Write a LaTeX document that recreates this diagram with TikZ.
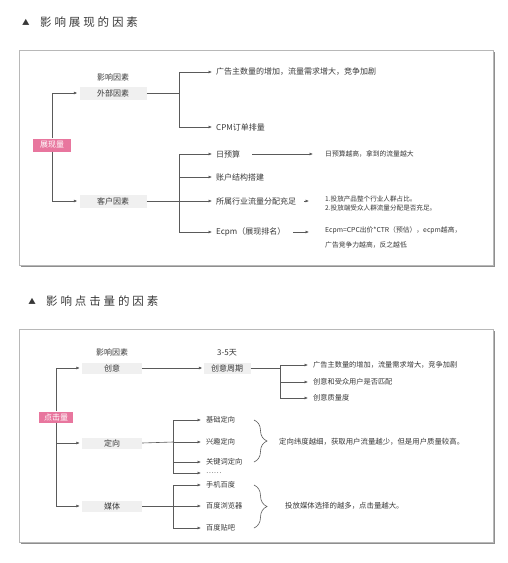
\documentclass[tikz,border=0pt]{standalone}
\usepackage{fontspec}
\setmainfont{Noto Sans CJK SC}
\newfontfamily\titlefont[LetterSpace=25]{Noto Sans CJK SC}
\usepackage{xcolor}
\usepackage{tikz}
\usetikzlibrary{arrows.meta, positioning, decorations.pathreplacing}
\definecolor{boxgray}{HTML}{F0F0F0}
\definecolor{rootpink}{HTML}{E8769E}
\definecolor{txtgray}{HTML}{383838}
\definecolor{linegray}{HTML}{5A5A5A}
\definecolor{framegray}{HTML}{B8B8B8}
\definecolor{shadegray}{HTML}{8E8E8E}
\tikzset{
    factor/.style={rectangle, fill=boxgray, text=txtgray, minimum width=67pt, minimum height=13pt, inner sep=0pt, font=\fontsize{8}{9}\selectfont},
    rootbox/.style={rectangle, fill=rootpink, text=white, minimum width=38pt, minimum height=13pt, inner sep=0pt, font=\fontsize{8}{9}\selectfont},
    colhead/.style={text=txtgray, inner sep=0pt, font=\fontsize{8}{9}\selectfont},
    item/.style={anchor=west, text=txtgray, inner xsep=3pt, inner ysep=1pt, font=\fontsize{8}{9}\selectfont},
    smallitem/.style={item, inner xsep=4pt, font=\fontsize{7.2}{8}\selectfont},
    note/.style={anchor=west, text=txtgray, inner sep=1pt, align=left, font=\fontsize{6.8}{9}\selectfont},
    heading/.style={anchor=west, text=txtgray, inner sep=0pt, font=\titlefont\fontsize{11.5}{12}\selectfont},
    titlemark/.style={text=txtgray, inner sep=0pt, font=\fontsize{7.5}{8}\selectfont},
    link/.style={draw=linegray, line width=0.6pt},
    arrowline/.style={link, -{Latex[length=3.5pt, width=3pt]}, shorten >=1pt},
    notearrow/.style={arrowline, shorten <=5pt, shorten >=15pt},
    bracket/.style={link, decorate, decoration={brace, amplitude=13pt}},
    panel/.style={draw=framegray, fill=white, line width=0.6pt}
}
\begin{document}
\begin{tikzpicture}[x=1pt, y=-1pt]
  \useasboundingbox (0,0) rectangle (508,563);
  \fill[shadegray] (21,52) rectangle (495,267);
  \draw[panel] (19,50) rectangle (493,265);
  \fill[shadegray] (21,331) rectangle (495,544);
  \draw[panel] (19,329) rectangle (493,542);
  \node[titlemark] (mark1) at (26,22) {▲};
  \node[heading] (title1) at (40,22) {影响展现的因素};
  \node[titlemark] (mark2) at (32,301) {▲};
  \node[heading] (title2) at (46,301) {影响点击量的因素};

  \node[rootbox] (root1) at (52,145) {展现量};
  \node[factor] (ext) at (113,93) {外部因素};
  \node[colhead, above=12pt of ext.center] (head1) {影响因素};
  \node[factor] (cust) at (113,201) {客户因素};
  \coordinate (ebr) at (179,93);
  \coordinate (cbr) at (179,201);
  \node[item] (adv1) at (213,72) {广告主数量的增加，流量需求增大，竞争加剧};
  \node[item] (cpm) at (213,127) {CPM订单排量};
  \node[item] (budget) at (213,154) {日预算};
  \node[item] (acct) at (213,177) {账户结构搭建};
  \node[item] (ind) at (213,201) {所属行业流量分配充足};
  \node[item] (ecpm) at (213,232) {Ecpm（展现排名）};
  \node[note] (budgetnote) at (324,154) {日预算越高，拿到的流量越大};
  \node[note, font=\fontsize{6.6}{9}\selectfont] (indnote) at (324,203.5) {1.投放产品整个行业人群占比。\\2.投放端受众人群流量分配是否充足。};
  \node[note, font=\fontsize{6.8}{15}\selectfont] (ecpmnote) at (324,237.5) {Ecpm=CPC出价*CTR（预估），ecpm越高，\\广告竞争力越高，反之越低};
  \draw[arrowline, shorten >=2pt] (root1.north) |- (ext.west);
  \draw[arrowline, shorten >=2pt] (root1.south) |- (cust.west);
  \draw[link] (ext.east) -- (ebr);
  \draw[arrowline] (ebr) |- (adv1.west);
  \draw[arrowline] (ebr) |- (cpm.west);
  \draw[link] (cust.east) -- (cbr);
  \draw[arrowline] (cbr) |- (budget.west);
  \draw[arrowline] (cbr) |- (acct.west);
  \draw[arrowline] (cbr) -- (ind.west);
  \draw[arrowline] (cbr) |- (ecpm.west);
  \draw[notearrow, shorten <=9pt, shorten >=11pt] (budget.east) -- (budget.east -| budgetnote.west);
  \draw[notearrow] (ind.east) -- (ind.east -| indnote.west);
  \draw[notearrow] (ecpm.east) -- (ecpm.east -| ecpmnote.west);

  \node[rootbox, minimum width=34pt, minimum height=11pt] (root2) at (56,417) {点击量};
  \node[factor, minimum width=60pt, minimum height=11pt] (idea) at (112,368) {创意};
  \node[colhead, above=12pt of idea.center] (head2) {影响因素};
  \node[factor, minimum width=47pt, minimum height=11pt] (cycle) at (227,368) {创意周期};
  \node[colhead, above=12pt of cycle.center] (days) {3-5天};
  \node[factor, minimum width=60pt, minimum height=11pt] (target) at (112,443) {定向};
  \node[factor, minimum width=60pt, minimum height=11pt] (media) at (112,506) {媒体};
  \coordinate (ibr) at (280,368);
  \coordinate (tbr) at (173,442);
  \coordinate (mbr) at (173,506);
  \node[smallitem] (adv2) at (309,365) {广告主数量的增加，流量需求增大，竞争加剧};
  \node[smallitem] (match) at (309,382) {创意和受众用户是否匹配};
  \node[smallitem] (quality) at (309,398) {创意质量度};
  \node[smallitem] (basic) at (202,420) {基础定向};
  \node[smallitem] (interest) at (202,442) {兴趣定向};
  \node[smallitem] (keyword) at (202,462) {关键词定向};
  \node[smallitem] (more) at (202,473) {……};
  \node[smallitem] (mobile) at (202,485) {手机百度};
  \node[smallitem] (browser) at (202,506) {百度浏览器};
  \node[smallitem] (tieba) at (202,528) {百度贴吧};
  \coordinate (ttop) at (254,420);
  \coordinate (tbot) at (254,462);
  \coordinate (mtop) at (254,485);
  \coordinate (mbot) at (254,528);
  \node[note, font=\fontsize{7.4}{9}\selectfont] (targetnote) at (278,442) {定向纬度越细，获取用户流量越少，但是用户质量较高。};
  \node[note, font=\fontsize{7.4}{9}\selectfont] (medianote) at (284,506) {投放媒体选择的越多，点击量越大。};
  \draw[arrowline, shorten >=2pt] (root2.north) |- (idea.west);
  \draw[arrowline, shorten >=2pt] (root2.south) |- (target.west);
  \draw[arrowline, shorten >=2pt] (root2.south) |- (media.west);
  \draw[arrowline] (idea) -- (cycle);
  \draw[link] (cycle.east) -- (ibr);
  \draw[arrowline] (ibr) |- (adv2.west);
  \draw[arrowline] (ibr) |- (match.west);
  \draw[arrowline] (ibr) |- (quality.west);
  \draw[link] (target.east) -- (tbr);
  \draw[arrowline] (tbr) |- (basic.west);
  \draw[arrowline] (tbr) -- (interest.west);
  \draw[arrowline] (tbr) |- (keyword.west);
  \draw[arrowline] (tbr) |- (more.west);
  \draw[link] (media.east) -- (mbr);
  \draw[arrowline] (mbr) |- (mobile.west);
  \draw[arrowline] (mbr) -- (browser.west);
  \draw[arrowline] (mbr) |- (tieba.west);
  \draw[bracket] (ttop) -- (tbot);
  \draw[bracket] (mtop) -- (mbot);
\end{tikzpicture}
\end{document}
